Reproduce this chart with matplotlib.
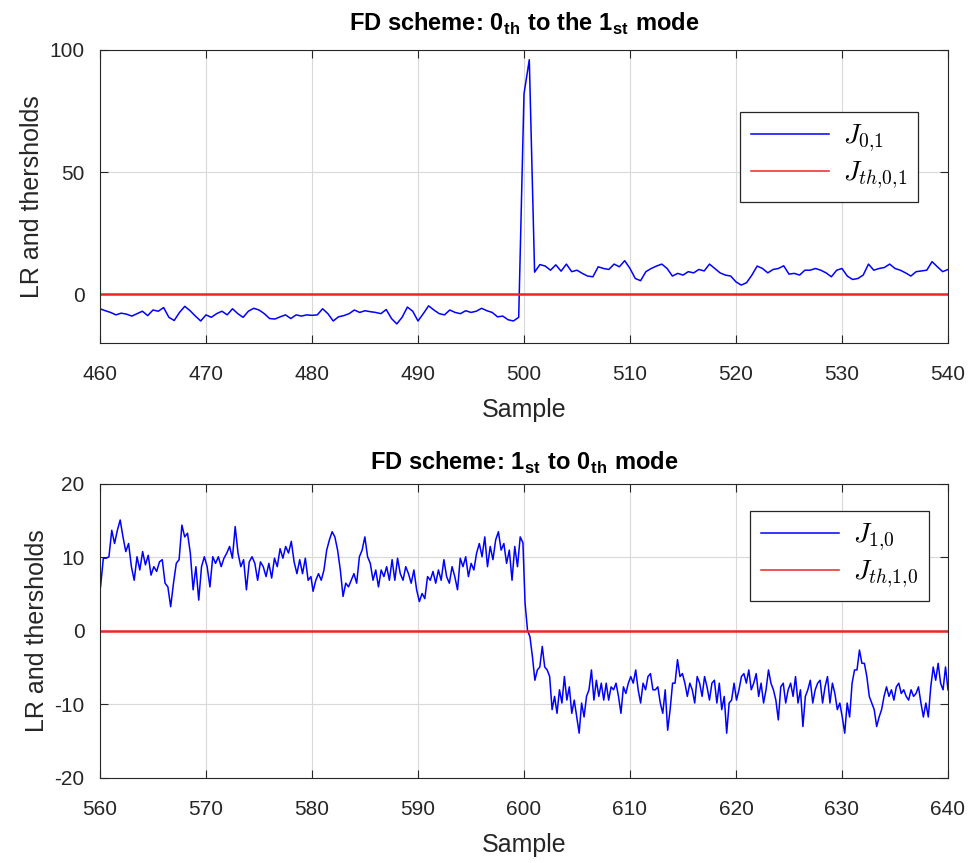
import numpy as np
import matplotlib
matplotlib.use("Agg")
from matplotlib import pyplot as plt

plt.rcParams['font.family'] = ['Liberation Sans', 'DejaVu Sans']
plt.rcParams['mathtext.fontset'] = 'custom'
plt.rcParams['mathtext.rm'] = 'cmr10'
plt.rcParams['mathtext.it'] = 'cmmi10'
plt.rcParams['mathtext.bf'] = 'Liberation Sans:bold'
plt.rcParams['axes.unicode_minus'] = False

# top panel: J_{0,1}, samples 460..540 every 0.5
j01 = [
    -6.0, -6.8, -7.5, -8.5, -7.8, -8.2, -9.0, -8.0, -7.0, -8.8,
    -6.5, -7.0, -5.5, -9.5, -10.8, -7.5, -5.0, -6.8, -9.0, -11.0,
    -8.5, -9.5, -8.0, -7.0, -8.5, -6.0, -8.0, -9.5, -7.0, -5.8,
    -6.5, -8.0, -10.0, -10.2, -9.3, -8.5, -10.0, -8.5, -9.0, -8.5,
    -8.7,
    -8.5, -6.0, -8.0, -11.0, -9.3, -8.8, -8.0, -6.5, -7.5, -6.8,
    -7.2, -7.5, -8.0, -6.3, -10.0, -12.2, -9.5, -5.3, -7.0, -11.0,
    -8.0, -4.8, -6.5, -8.0, -8.5, -6.5, -7.5, -8.0, -6.8, -7.5,
    -7.0, -5.8, -6.8, -7.5, -9.3, -9.0, -10.5, -11.0, -9.5, 82.0,
    96.0, 9.0,
    12.1, 11.5, 9.8, 12.0, 9.4, 12.3, 9.2, 9.8, 8.5, 7.4,
    7.1, 11.2, 10.5, 10.1, 12.3, 11.2, 13.7, 10.5, 6.4, 5.5,
    9.2, 10.5, 11.5, 12.3, 10.5, 7.4, 8.5, 7.8, 9.2, 8.7,
    10.1, 9.5, 12.3, 10.5, 8.7, 7.8, 7.4, 5.0,
    3.7, 4.7, 7.8, 11.5, 10.5, 8.7, 10.1, 10.5, 11.6, 8.2,
    8.5, 7.8, 9.8, 9.8, 10.5, 9.8, 8.7, 7.1, 9.8, 10.5,
    7.4, 6.0, 6.4, 7.8, 12.3, 9.8, 10.5, 10.9, 12.3, 10.5,
    9.8, 8.7, 7.4, 9.2, 9.5, 9.8, 13.3, 11.2, 9.2, 10.1,
]
j01_range = (460, 540)

# bottom panel: J_{1,0}, read in three stretches
j10_560_580 = [
    6.0, 9.9, 9.9, 10.1, 13.7, 11.9, 13.7, 15.1, 12.8, 10.8,
    11.9, 8.75, 6.9, 10.1, 8.3, 10.8, 9.0, 10.3, 7.6, 8.75,
    8.1, 9.4, 9.7, 6.5, 6.0, 3.3, 6.5, 9.2, 9.7, 14.4,
    12.8, 13.3, 10.6, 5.6, 8.75, 4.2, 8.75, 10.1, 8.75, 6.0,
    10.1, 9.2, 10.1, 8.75, 9.9, 10.6, 11.5, 9.9, 14.2, 10.6,
    8.75, 9.7, 5.6, 9.4, 10.1, 9.2, 6.9, 9.4, 8.75, 7.4,
    9.2, 7.2, 9.9, 8.75, 11.2, 9.9, 11.5, 10.6, 12.2, 9.4,
    7.8, 9.7, 7.8, 9.9, 6.9, 7.4,
]
j10_580_600 = [
    5.4, 6.9, 7.8, 6.9, 8.3, 11.0, 12.4, 13.5, 12.8, 11.0,
    8.3, 4.7, 6.5, 6.0, 6.9, 7.8, 6.5, 10.1, 11.0, 12.8,
    10.1, 9.2, 6.9, 8.3, 6.0, 8.3, 7.4, 8.75, 6.9, 9.7,
    6.9, 9.9, 7.8, 6.9, 8.75, 7.8, 6.5, 8.3, 5.6, 4.0,
    5.1, 4.4, 7.4, 6.9, 8.1, 6.5, 8.3, 6.9, 9.7, 7.4,
    6.5, 8.75, 7.4, 5.6, 9.9, 8.75, 10.1, 7.4, 9.2, 8.3,
    10.6, 11.9, 10.1, 12.8, 8.75, 11.5, 9.7, 12.4, 13.5, 11.0,
    11.9, 9.2, 11.0, 6.9, 11.5, 8.75, 12.8, 12.0,
]
j10_600_640 = [
    3.8, 0.1, -0.8, -3.5, -6.7, -5.3, -4.9, -2.1, -4.9, -5.3,
    -6.2, -10.7, -8.9, -11.2, -8.0, -9.8, -6.2, -9.4, -7.6, -11.2,
    -9.4, -11.7, -13.9, -9.8, -11.7, -8.9, -8.0, -5.3, -9.4, -6.7,
    -8.9, -7.1, -9.4, -7.1, -9.4, -7.6, -8.0, -7.1, -8.9, -11.2,
    -7.6, -8.5, -7.1, -6.2, -7.1, -5.3, -8.0, -9.8, -7.1, -8.0,
    -6.2, -5.8, -8.0, -8.0, -7.6, -9.8, -11.2, -8.0, -13.5, -10.7,
    -7.1, -7.1, -3.9, -6.2, -5.8, -7.1, -8.9, -7.1, -8.0, -9.8,
    -6.2, -7.1, -8.9, -6.2, -7.6, -9.4, -7.1, -6.7, -9.8, -7.1,
    -10.7, -8.9, -13.9, -9.8, -9.4, -7.1, -9.4, -8.0, -6.2, -5.8,
    -7.1, -5.3, -8.0, -7.1, -5.8, -8.9, -7.1, -9.8, -8.0, -5.3,
    -7.1, -8.0, -9.4, -12.1, -7.6, -7.1, -9.8, -8.0, -7.1, -8.9,
    -6.2, -9.8, -8.0, -13.0, -8.9, -8.0, -6.7, -9.8, -8.0, -7.1,
    -6.7, -9.8, -7.6, -6.2, -9.8, -7.1, -8.5, -10.7, -9.8, -11.7,
    -13.9, -9.8, -11.7, -7.1, -5.3, -5.3, -2.6, -4.4, -4.4, -6.2,
    -8.9, -9.8, -10.7, -13.0, -11.7, -10.7, -8.9, -7.6, -8.9, -8.0,
    -9.4, -7.6, -7.1, -8.5, -8.0, -8.9, -9.4, -8.0, -8.9, -8.5,
    -7.6, -9.8, -11.7, -9.8, -11.7, -7.6, -4.9, -6.7, -4.4, -7.1,
    -8.0, -4.9, -8.0,
]
j10_ranges = [(560.05, 579.9), (580.1, 599.9), (600.1, 640.0)]

thr01 = 0.0
thr10 = 0.0

x01 = np.linspace(j01_range[0], j01_range[1], len(j01))
segs = [j10_560_580, j10_580_600, j10_600_640]
x10 = np.concatenate([np.linspace(a, b, len(s)) for (a, b), s in zip(j10_ranges, segs)])
j10 = np.concatenate(segs)

fig = plt.figure(figsize=(9.7, 8.63), dpi=100)
ax1 = fig.add_axes([0.1031, 0.6026, 0.8742, 0.3395])
ax2 = fig.add_axes([0.1031, 0.0985, 0.8742, 0.3407])

red = (0.92, 0.15, 0.15)
dark = '#262626'

def style(ax):
    ax.grid(True, color='#d9d9d9', linewidth=0.8)
    ax.set_axisbelow(True)
    ax.tick_params(direction='in', length=6, width=0.8, labelsize=15,
                   top=True, right=True, colors=dark, labelcolor=dark)
    ax.tick_params(axis='x', pad=16)
    ax.tick_params(axis='y', pad=11)
    for s in ax.spines.values():
        s.set_color(dark)
        s.set_linewidth(0.8)
    ax.set_xlabel('Sample', fontsize=18, color=dark, labelpad=10)
    ax.set_ylabel('LR and thersholds', fontsize=18, color=dark, labelpad=4)

def add_legend(ax, anchor):
    leg = ax.legend(loc='upper right', bbox_to_anchor=anchor, borderaxespad=0,
                    fontsize=20, handlelength=2.8, handletextpad=0.5,
                    fancybox=False, framealpha=1, edgecolor=dark,
                    borderpad=0.4, labelspacing=0.2)
    leg.get_frame().set_linewidth(0.9)
    for h in leg.get_lines():
        h.set_linewidth(1.1)

ax1.plot(x01, j01, color='#0000ff', lw=1.1, label=r'$J_{0{,}1}$')
ax1.plot([j01_range[0], j01_range[1]], [thr01, thr01], color=red, lw=1.8, label=r'$J_{th{,}0{,}1}$')
ax1.set_xlim(460, 540)
ax1.set_ylim(-20, 100)
ax1.set_xticks(np.arange(460, 541, 10))
ax1.set_yticks([0, 50, 100])
style(ax1)
ax1.set_title(r'FD scheme: 0$_\mathbf{th}$ to the 1$_\mathbf{st}$ mode',
              fontsize=17, fontweight='bold', pad=14)
add_legend(ax1, (0.9646, 0.788))

ax2.plot(x10, j10, color='#0000ff', lw=1.1, label=r'$J_{1{,}0}$')
ax2.plot([560, 640], [thr10, thr10], color=red, lw=1.8, label=r'$J_{th{,}1{,}0}$')
ax2.set_xlim(560, 640)
ax2.set_ylim(-20, 20)
ax2.set_xticks(np.arange(560, 641, 10))
ax2.set_yticks([-20, -10, 0, 10, 20])
style(ax2)
ax2.set_title(r'FD scheme: 1$_\mathbf{st}$ to 0$_\mathbf{th}$ mode',
              fontsize=17, fontweight='bold', pad=10)
add_legend(ax2, (0.9776, 0.908))

fig.savefig('out.png', dpi=100)
